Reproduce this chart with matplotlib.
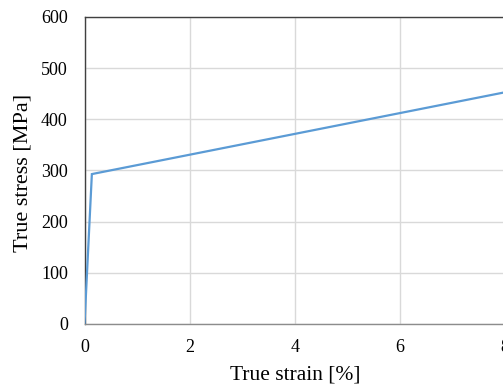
import matplotlib
matplotlib.use("Agg")
import matplotlib.pyplot as plt

strain = [0.0, 0.14, 8.0]
stress = [0.0, 293.0, 453.0]
xticks = [0, 2, 4, 6, 8]
yticks = [0, 100, 200, 300, 400, 500, 600]

plt.rcParams['font.family'] = ['Liberation Serif', 'DejaVu Serif']

fig = plt.figure(figsize=(5.03, 3.85), dpi=100)
W, H = 503, 385
left_px, right_px = 84.5, 84.5 + 52.6 * 10
top_px, bot_px = 17, 324
ax = fig.add_axes([left_px / W, (H - bot_px) / H, (right_px - left_px) / W, (bot_px - top_px) / H])

ax.plot(strain, stress, color='#5B9BD5', lw=1.6, solid_joinstyle='miter', zorder=3)
ax.set_xlim(0, 10)
ax.set_ylim(0, 600)
ax.set_xticks(xticks)
ax.set_yticks(yticks)
ax.grid(True, color='#D9D9D9', lw=1.0)
ax.set_axisbelow(True)
ax.tick_params(length=0, labelsize=13, colors='#000000')
ax.tick_params(axis='x', pad=11)
ax.tick_params(axis='y', pad=12)
for s in ['left', 'top']:
    ax.spines[s].set_color('#404040')
    ax.spines[s].set_linewidth(1.0)
ax.spines['bottom'].set_color('#8C8C8C')
ax.spines['bottom'].set_linewidth(1.0)
ax.spines['right'].set_visible(False)

fig.text(295 / W, 1 - 375 / H, 'True strain [%]', ha='center', va='center', fontsize=15.5)
fig.text(23 / W, 1 - 173 / H, 'True stress [MPa]', ha='center', va='center', rotation=90, fontsize=16)

fig.savefig('out.png', dpi=100)
